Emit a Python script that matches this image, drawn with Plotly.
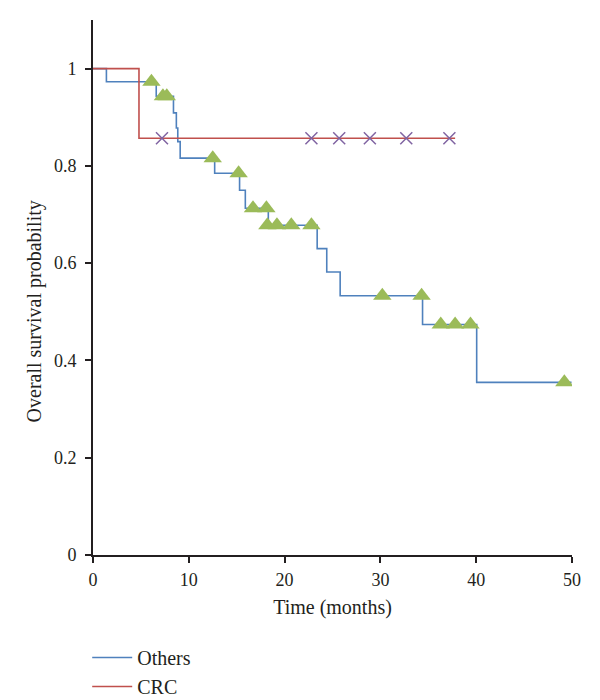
import plotly.graph_objects as go

# Kaplan-Meier step data
others_time = [0, 1.4, 6.6, 8.4, 8.7, 8.85, 9.1, 12.7, 15.3, 15.9, 18.3, 23.4, 24.4, 25.8, 34.4, 40.05, 49.95]
others_surv = [1.0, 0.973, 0.943, 0.909, 0.878, 0.850, 0.816, 0.785, 0.750, 0.713, 0.678, 0.630, 0.582, 0.533, 0.474, 0.355, 0.355]

others_cens_time = [6.1, 7.3, 7.7, 12.5, 15.2, 16.7, 18.1, 18.2, 19.2, 20.7, 22.8, 30.2, 34.3, 36.3, 37.8, 39.4, 49.2]
others_cens_surv = [0.973, 0.943, 0.943, 0.816, 0.785, 0.713, 0.713, 0.678, 0.678, 0.678, 0.678, 0.533, 0.533, 0.474, 0.474, 0.474, 0.355]

crc_time = [0, 4.8, 37.8]
crc_surv = [1.0, 0.857, 0.857]

crc_cens_time = [7.2, 22.8, 25.7, 28.9, 32.7, 37.2]
crc_cens_surv = [0.857, 0.857, 0.857, 0.857, 0.857, 0.857]

y_ticks = [0, 0.2, 0.4, 0.6, 0.8, 1]
y_tick_text = ["0", "0.2", "0.4", "0.6", "0.8", "1"]
x_ticks = [0, 10, 20, 30, 40, 50]

BLUE = "#4F81BD"
RED = "#C0504D"
GREEN = "#9BBB59"
PURPLE = "#8064A2"
AXIS = "#231F20"
FONT = "Liberation Serif"

fig = go.Figure()
fig.add_trace(go.Scatter(x=others_time, y=others_surv, mode="lines", line_shape="hv",
                         line=dict(color=BLUE, width=1.6), name="Others"))
fig.add_trace(go.Scatter(x=crc_time, y=crc_surv, mode="lines", line_shape="hv",
                         line=dict(color=RED, width=1.6), name="CRC"))
fig.add_trace(go.Scatter(x=others_cens_time, y=others_cens_surv, mode="markers",
                         marker=dict(symbol="triangle-up", size=16, color=GREEN),
                         showlegend=False, hoverinfo="skip"))
fig.add_trace(go.Scatter(x=crc_cens_time, y=crc_cens_surv, mode="markers",
                         marker=dict(symbol="x-thin", size=12, line=dict(color=PURPLE, width=1.5), color=PURPLE),
                         showlegend=False, hoverinfo="skip"))

fig.update_layout(
    width=600, height=700,
    margin=dict(l=85, r=36, t=12, b=153, autoexpand=False),
    plot_bgcolor="white", paper_bgcolor="white",
    font=dict(family=FONT, size=18, color=AXIS),
    xaxis=dict(range=[0, 50], tickvals=x_ticks, showline=True, linecolor=AXIS, linewidth=2,
               ticks="outside", ticklen=6, tickcolor=AXIS, tickwidth=1.5, showgrid=False, zeroline=False,
               automargin=False, ticklabelstandoff=1,
               title=dict(text="Time (months)", font=dict(size=20), standoff=11)),
    yaxis=dict(range=[0, 1.1], tickvals=y_ticks, ticktext=y_tick_text, showline=True, linecolor=AXIS,
               linewidth=2, ticks="outside", ticklen=6, tickcolor=AXIS, tickwidth=1.5, showgrid=False,
               zeroline=False, automargin=False, ticklabelstandoff=5),
    annotations=[dict(text="Overall survival probability", textangle=-90, xref="paper", yref="y",
                      x=-0.122, y=0.5, xanchor="center", yanchor="middle", showarrow=False,
                      font=dict(size=20, family=FONT, color=AXIS))],
    legend=dict(xref="container", yref="container", x=0.132, y=0.1, xanchor="left", yanchor="top",
                orientation="v", font=dict(size=20), bgcolor="rgba(0,0,0,0)", itemwidth=40,
                tracegroupgap=0),
    showlegend=True,
)

fig.write_html("out.html")
